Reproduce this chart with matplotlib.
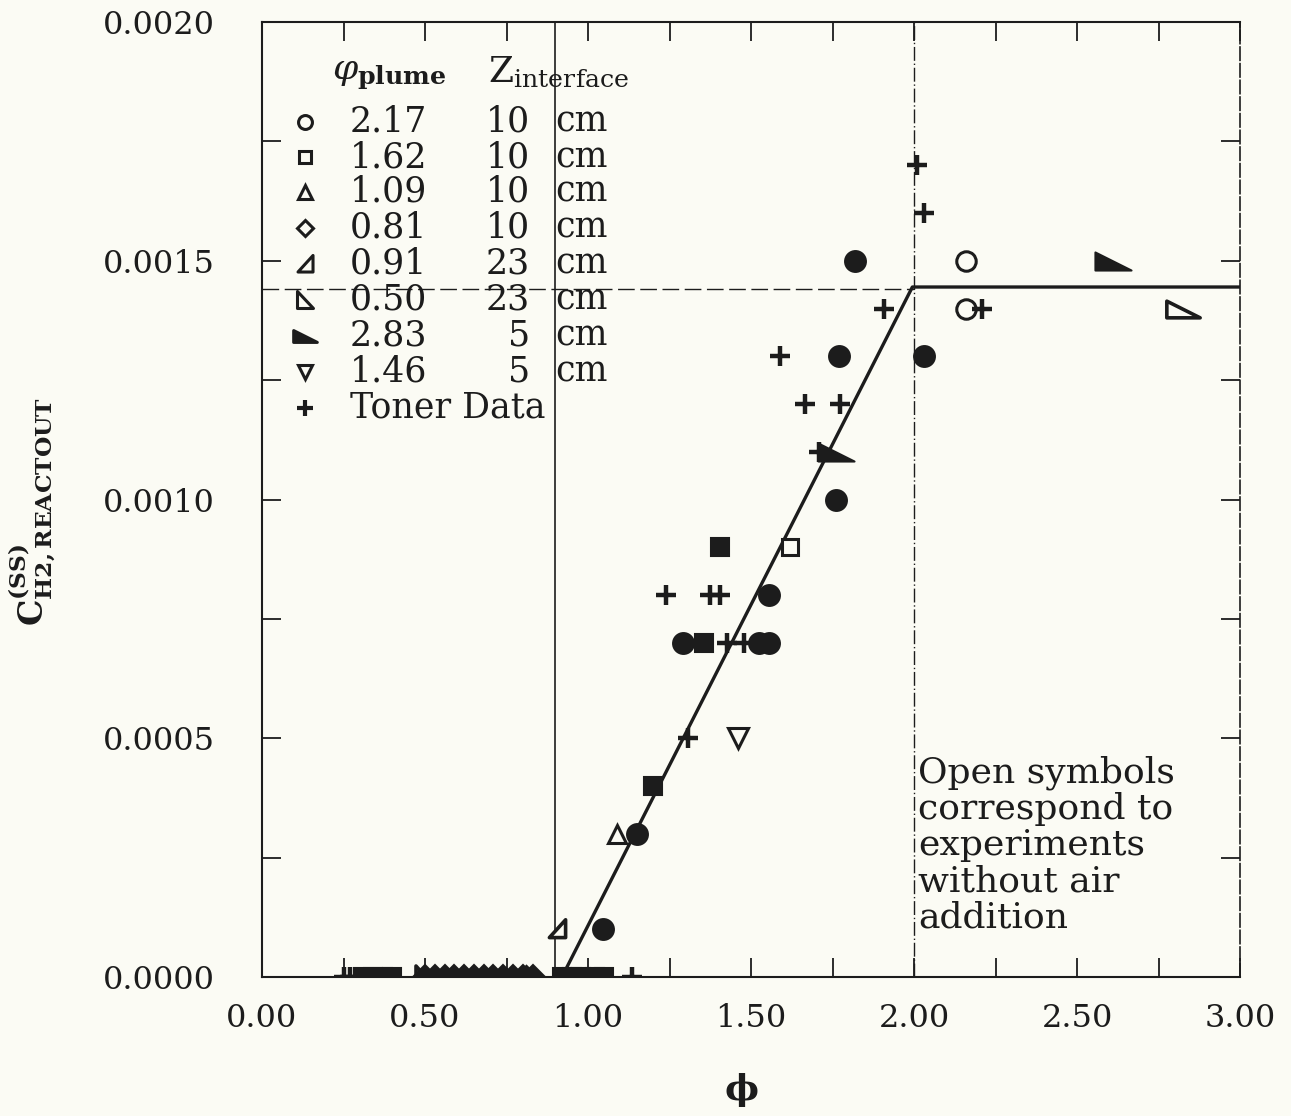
import matplotlib
matplotlib.use("Agg")
import matplotlib.pyplot as plt
import numpy as np
from matplotlib.path import Path
from matplotlib.ticker import MultipleLocator, FormatStrFormatter

plt.rcParams['font.family'] = ['DejaVu Serif']
plt.rcParams['mathtext.fontset'] = 'dejavuserif'

# ---------------- data ----------------
# open symbols (experiments without air addition)
open_circle_x = [2.16, 2.16]
open_circle_y = [0.0015, 0.0014]
open_square_x = [1.62]
open_square_y = [0.0009]
open_tri_up_x = [1.09]
open_tri_up_y = [0.0003]
open_diamond_x = [0.81]
open_diamond_y = [0.0]
open_w091_x = [0.905]
open_w091_y = [0.0001]
open_w050_x = [0.50]
open_w050_y = [0.0]
open_w283_x = [2.825]
open_w283_y = [0.0014]
open_tri_down_x = [1.46]
open_tri_down_y = [0.0005]

# filled symbols (experiments with air addition)
filled_circle_x = [1.82, 1.77, 1.76, 1.555, 1.29, 1.525, 1.555, 1.15, 1.045, 2.03]
filled_circle_y = [0.0015, 0.0013, 0.0010, 0.0008, 0.0007, 0.0007, 0.0007, 0.0003, 0.0001, 0.0013]
filled_square_x = [1.405, 1.356, 1.20]
filled_square_y = [0.0009, 0.0007, 0.0004]
filled_w283_x = [2.61, 1.76]
filled_w283_y = [0.0015, 0.0011]

# zero-concentration cluster along the axis
zero_square_x = [0.31, 0.34, 0.37, 0.40, 0.92, 0.95, 0.98, 1.02, 1.05]
zero_diamond_x = [0.50, 0.53, 0.56, 0.59, 0.62, 0.65, 0.68, 0.71, 0.74, 0.77, 0.80, 0.83]

# Toner data
toner_x = [2.01, 2.03, 1.908, 2.21, 1.59, 1.666, 1.773, 1.71, 1.24, 1.375, 1.405,
           1.426, 1.48, 1.307, 1.135, 0.25, 0.27]
toner_y = [0.0017, 0.0016, 0.0014, 0.0014, 0.0013, 0.0012, 0.0012, 0.0011, 0.0008,
           0.0008, 0.0008, 0.0007, 0.0007, 0.0005, 0.0, 0.0, 0.0]

# model line
model_x = [0.92, 1.995, 3.0]
model_y = [0.0, 0.001445, 0.001445]
phi_lower = 0.90
phi_upper = 2.00
c_plateau = 0.00144

# legend entries
legend_phi = ['2.17', '1.62', '1.09', '0.81', '0.91', '0.50', '2.83', '1.46']
legend_z = ['10', '10', '10', '10', '23', '23', '5', '5']

x_ticks = [0.0, 0.5, 1.0, 1.5, 2.0, 2.5, 3.0]
y_ticks = [0.0, 0.0005, 0.0010, 0.0015, 0.0020]

# ---------------- styling ----------------
BG = '#fbfbf4'
INK = '#1c1c1c'

w091 = Path([(0.5, -0.5), (0.5, 0.6), (-0.5, -0.5), (0.5, -0.5)],
            [Path.MOVETO, Path.LINETO, Path.LINETO, Path.CLOSEPOLY])
w050 = Path([(-0.5, 0.6), (-0.5, -0.5), (0.5, -0.5), (-0.5, 0.6)],
            [Path.MOVETO, Path.LINETO, Path.LINETO, Path.CLOSEPOLY])
w283 = Path([(-0.6, 0.3), (0.6, -0.3), (-0.6, -0.3), (-0.6, 0.3)],
            [Path.MOVETO, Path.LINETO, Path.LINETO, Path.CLOSEPOLY])

fig = plt.figure(figsize=(12.91, 11.16), dpi=100)
fig.patch.set_facecolor(BG)
ax = fig.add_axes([262/1291, 139/1116, 978/1291, 955/1116])
ax.set_facecolor(BG)

# reference lines
ax.axvline(phi_lower, color=INK, lw=1.2, zorder=1)
ax.axvline(phi_upper, color=INK, lw=1.0, ls=(0, (10, 2, 1, 2)), zorder=1)
ax.plot([0, phi_upper], [c_plateau, c_plateau], color=INK, lw=1.0,
        ls=(0, (12, 4)), zorder=1)
ax.plot(model_x, model_y, color=INK, lw=2.4, zorder=2)

ms = 14
def open_pts(x, y, m, size=ms, mew=2.2, z=3):
    ax.plot(x, y, ls='none', marker=m, ms=size, mfc=BG, mec=INK, mew=mew, zorder=z)

def filled_pts(x, y, m, size=ms, z=3):
    ax.plot(x, y, ls='none', marker=m, ms=size, mfc=INK, mec=INK, mew=1.5, zorder=z)

# hidden open symbols inside the zero cluster
open_pts(open_diamond_x, open_diamond_y, 'D', 11, z=2.5)
open_pts(open_w050_x, open_w050_y, w050, 16, 2.6, z=2.5)
filled_pts(zero_square_x, [0.0]*len(zero_square_x), 's', 13, z=3.5)
filled_pts(zero_diamond_x, [0.0]*len(zero_diamond_x), 'D', 12, z=3.5)

open_pts(open_circle_x, open_circle_y, 'o')
open_pts(open_square_x, open_square_y, 's', 12)
open_pts(open_tri_up_x, open_tri_up_y, '^', 13)
open_pts(open_w091_x, open_w091_y, w091, 14, 2.6)
open_pts(open_w283_x, open_w283_y, w283, 24, 2.6)
open_pts(open_tri_down_x, open_tri_down_y, 'v', 14)
filled_pts(filled_circle_x, filled_circle_y, 'o', 15)
filled_pts(filled_square_x, filled_square_y, 's', 13)
filled_pts(filled_w283_x, filled_w283_y, w283, 26)
ax.plot(toner_x, toner_y, ls='none', marker='+', ms=15, mew=3.2, color=INK, zorder=4)

# axes
ax.set_xlim(0, 3.0)
ax.set_ylim(0, 0.0020)
ax.set_xticks(x_ticks)
ax.set_yticks(y_ticks)
ax.xaxis.set_minor_locator(MultipleLocator(0.25))
ax.yaxis.set_minor_locator(MultipleLocator(0.00025))
ax.xaxis.set_major_formatter(FormatStrFormatter('%.2f'))
ax.yaxis.set_major_formatter(FormatStrFormatter('%.4f'))
ax.tick_params(which='both', direction='in', top=True, right=True,
               length=14, width=1.3, colors=INK)
ax.tick_params(axis='x', which='major', labelsize=23, pad=19)
ax.tick_params(axis='y', which='major', labelsize=23, pad=34)
for s in ax.spines.values():
    s.set_color(INK)
    s.set_linewidth(1.5)
ax.spines['right'].set_linestyle((0, (8, 2)))
ax.spines['right'].set_linewidth(1.2)

# legend block (drawn as in the original, in axes coordinates)
def axx(px):
    return (px - 262) / 978.0

def axy(py):
    return (977 - py) / 955.0

ax.text(axx(332), axy(75), r'$\varphi_{\mathbf{plume}}$', transform=ax.transAxes,
        fontsize=26, va='center', ha='left', color=INK)
ax.text(axx(488), axy(72), r'$\mathrm{Z}_{\mathrm{interface}}$', transform=ax.transAxes,
        fontsize=26, va='center', ha='left', color=INK)
leg_markers = [('o', False, 10), ('s', False, 9), ('^', False, 10), ('D', False, 8),
               (w091, False, 13), (w050, False, 13), (w283, True, 17), ('v', False, 10)]
row_y = [122, 157, 192, 228, 264, 300, 336, 372]
for (m, filled, sz), ph, z, py in zip(leg_markers, legend_phi, legend_z, row_y):
    ax.plot([axx(305)], [axy(py)], transform=ax.transAxes, marker=m, ms=sz,
            mfc=INK if filled else BG, mec=INK, mew=2.2, ls='none', zorder=5)
    ax.text(axx(350), axy(py), ph, transform=ax.transAxes, fontsize=25,
            va='center', ha='left', color=INK)
    ax.text(axx(530), axy(py), z, transform=ax.transAxes, fontsize=25,
            va='center', ha='right', color=INK)
    ax.text(axx(555), axy(py), 'cm', transform=ax.transAxes, fontsize=25,
            va='center', ha='left', color=INK)
ax.plot([axx(305)], [axy(408)], transform=ax.transAxes, marker='+', ms=12, mew=3,
        color=INK, ls='none', zorder=5)
ax.text(axx(350), axy(408), 'Toner Data', transform=ax.transAxes, fontsize=25,
        va='center', ha='left', color=INK)

# annotation
note = ['Open symbols', 'correspond to', 'experiments', 'without air', 'addition']
for i, line in enumerate(note):
    ax.text(axx(918), axy(773 + 36 * i), line, transform=ax.transAxes, fontsize=26,
            va='center', ha='left', color=INK)

# axis labels
fig.text(32/1291, 1 - 512/1116, r'$\mathbf{C}^{\mathbf{(SS)}}_{\mathbf{H2,REACTOUT}}$',
         rotation=90, fontsize=24, ha='center', va='center', color=INK)
fig.text(742/1291, 1 - 1090/1116, 'ϕ', fontsize=26, fontweight='bold',
         ha='center', va='center', color=INK)

fig.savefig('out.png', dpi=100, facecolor=BG)
